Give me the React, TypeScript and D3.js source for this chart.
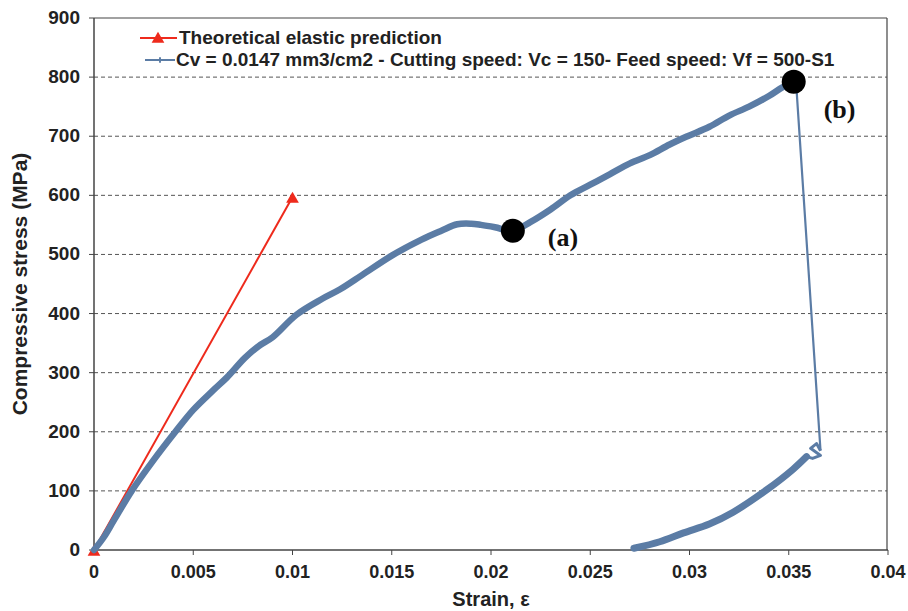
import React from "react";
import * as d3 from "d3";

// strain / stress readings (MPa)
const loadStrain = [0, 0.0005, 0.001, 0.0019, 0.003, 0.0041, 0.005, 0.006, 0.0067, 0.0076, 0.0083, 0.009, 0.0102, 0.0115, 0.0124, 0.0135, 0.015, 0.0165, 0.0175, 0.0183, 0.019, 0.0195, 0.0202, 0.0211, 0.022, 0.023, 0.024, 0.025, 0.026, 0.027, 0.028, 0.029, 0.0299, 0.031, 0.032, 0.033, 0.034, 0.0347, 0.0352];
const loadStress = [0, 22, 50, 100, 152, 200, 237, 270, 292, 325, 345, 360, 398, 425, 441, 465, 498, 525, 540, 551, 552, 550, 546, 540, 555, 576, 600, 618, 636, 654, 668, 686, 700, 716, 735, 750, 768, 783, 790];

const dropStrain = [0.0352, 0.0354, 0.0366];
const dropStress = [790, 775, 168];

const unloadStrain = [0.0366, 0.0364, 0.0361, 0.0366, 0.0362, 0.0359, 0.0352, 0.0339, 0.0322, 0.031, 0.0297, 0.0285, 0.0272];
const unloadStress = [168, 180, 172, 160, 155, 158, 136, 102, 64, 44, 29, 14, 3];

const elasticStrain = [0, 0.01];
const elasticStress = [0, 597];

const markStrain = [0.0211, 0.03525];
const markStress = [540, 792];
const markLabels = ["(a)", "(b)"];

const xTicks = [0, 0.005, 0.01, 0.015, 0.02, 0.025, 0.03, 0.035, 0.04];
const yTicks = [0, 100, 200, 300, 400, 500, 600, 700, 800, 900];

const legendNames = [
  "Theoretical elastic prediction",
  "Cv = 0.0147 mm3/cm2 - Cutting speed: Vc = 150- Feed speed: Vf = 500-S1",
];

const BLUE = "#5b7ca5";
const RED = "#ee2a1c";
const FONT = "'Liberation Sans', Arial, sans-serif";

const App = () => {
  const x = d3.scaleLinear().domain([0, 0.04]).range([94, 888]);
  const y = d3.scaleLinear().domain([0, 900]).range([550, 18]);

  const line = d3
    .line<[number, number]>()
    .x((d) => x(d[0]))
    .y((d) => y(d[1]));

  const zip = (a: number[], b: number[]) => a.map((v, i) => [v, b[i]] as [number, number]);
  const load = zip(loadStrain, loadStress);
  const drop = zip(dropStrain, dropStress);
  const unload = zip(unloadStrain, unloadStress);
  const elastic = zip(elasticStrain, elasticStress);

  const smooth = line.curve(d3.curveCatmullRom);
  const tri = d3.symbol().type(d3.symbolTriangle).size(70)();

  return (
    <svg width={908} height={611} style={{ position: "absolute", left: 0, top: 0, background: "#fff" }}>
      {/* grid */}
      {yTicks.slice(1, -1).map((t) => (
        <line key={t} x1={x(0)} x2={887} y1={y(t)} y2={y(t)} stroke="#555" strokeDasharray="4,3" strokeWidth={1} />
      ))}
      {/* frame */}
      <line x1={x(0)} x2={887} y1={y(900)} y2={y(900)} stroke="#444" strokeWidth={1.2} />
      <line x1={887} x2={887} y1={y(900)} y2={y(0)} stroke="#444" strokeWidth={1.2} />
      <line x1={x(0)} x2={x(0)} y1={y(900)} y2={y(0)} stroke="#444" strokeWidth={1.5} />
      <line x1={x(0)} x2={x(0.04)} y1={y(0)} y2={y(0)} stroke="#444" strokeWidth={1.5} />
      {yTicks.map((t) => (
        <g key={t}>
          <line x1={x(0) - 5} x2={x(0)} y1={y(t)} y2={y(t)} stroke="#444" />
          <text x={80} y={y(t) + 6} textAnchor="end" fontFamily={FONT} fontWeight="bold" fontSize={19} fill="#222">
            {t}
          </text>
        </g>
      ))}
      {xTicks.map((t) => (
        <g key={t}>
          <line x1={x(t)} x2={x(t)} y1={y(0)} y2={y(0) + 5} stroke="#444" />
          <text x={x(t)} y={578} textAnchor="middle" fontFamily={FONT} fontWeight="bold" fontSize={18} fill="#222">
            {t}
          </text>
        </g>
      ))}
      <text x={491} y={606} textAnchor="middle" fontFamily={FONT} fontWeight="bold" fontSize={20} fill="#222">
        Strain, ε
      </text>
      <text
        transform={`translate(27,${y(450)}) rotate(-90)`}
        textAnchor="middle"
        fontFamily={FONT}
        fontWeight="bold"
        fontSize={21}
        fill="#222"
      >
        Compressive stress (MPa)
      </text>

      {/* elastic prediction */}
      <path d={line(elastic) ?? ""} fill="none" stroke={RED} strokeWidth={2} />
      {elastic.map((d, i) => (
        <path key={i} d={tri ?? ""} transform={`translate(${x(d[0])},${y(d[1]) + 2})`} fill={RED} />
      ))}

      {/* measured curve */}
      <path d={smooth(load) ?? ""} fill="none" stroke={BLUE} strokeWidth={6.5} strokeLinejoin="round" strokeLinecap="round" />
      <path d={d3.line<[number, number]>().x((d) => x(d[0])).y((d) => y(d[1]))(drop) ?? ""} fill="none" stroke={BLUE} strokeWidth={2.2} />
      <path d={d3.line<[number, number]>().x((d) => x(d[0])).y((d) => y(d[1]))(unload.slice(0, 6)) ?? ""} fill="none" stroke={BLUE} strokeWidth={3} strokeLinejoin="round" />
      <path d={smooth(unload.slice(5)) ?? ""} fill="none" stroke={BLUE} strokeWidth={7} strokeLinejoin="round" strokeLinecap="round" />

      {/* marked points */}
      {markStrain.map((s, i) => (
        <g key={i}>
          <circle cx={x(s)} cy={y(markStress[i])} r={12} fill="#000" />
          <text
            x={x(s) + (i === 0 ? 35 : 30)}
            y={y(markStress[i]) + (i === 0 ? 15 : 36)}
            fontFamily="'Liberation Serif', 'Times New Roman', serif"
            fontWeight="bold"
            fontSize={26}
            fill="#111"
          >
            {markLabels[i]}
          </text>
        </g>
      ))}

      {/* legend */}
      <line x1={140} x2={177} y1={38} y2={38} stroke={RED} strokeWidth={2} />
      <path d={tri ?? ""} transform="translate(158,39)" fill={RED} />
      <text x={179} y={44} fontFamily={FONT} fontWeight="bold" fontSize={19} fill="#222">
        {legendNames[0]}
      </text>
      <line x1={145} x2={175} y1={60} y2={60} stroke={BLUE} strokeWidth={2} />
      <path d={d3.symbol().type(d3.symbolCross).size(18)() ?? ""} transform="translate(160,60)" fill={BLUE} />
      <text x={176} y={66} fontFamily={FONT} fontWeight="bold" fontSize={19} fill="#222">
        {legendNames[1]}
      </text>
    </svg>
  );
};

export default App;
